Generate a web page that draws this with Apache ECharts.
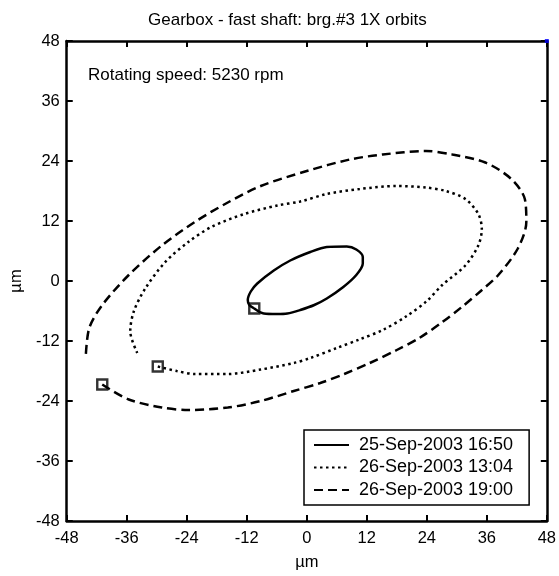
<!DOCTYPE html>
<html>
<head>
<meta charset="utf-8">
<script src="https://cdn.jsdelivr.net/npm/echarts@6/dist/echarts.min.js"></script>
<style>html,body{margin:0;padding:0;background:#fff}#c{width:559px;height:576px}</style>
</head>
<body>
<div id="c"></div>
<script>
// ---- data ----
const titleText = 'Gearbox - fast shaft: brg.#3 1X orbits';
const noteText = 'Rotating speed: 5230 rpm';
const axisTicks = [-48, -36, -24, -12, 0, 12, 24, 36, 48];
const seriesNames = ['25-Sep-2003 16:50', '26-Sep-2003 13:04', '26-Sep-2003 19:00'];

const orbit1 = [[-10.5,-5.5],[-8.6,-6.5],[-6,-6.6],[-3.9,-6.5],[-1.3,-5.8],[1.5,-4.8],[4.0,-3.5],[7.3,-1.2],[9.9,1.2],[11.2,3.5],[11.2,4.8],[9.9,6.3],[8.0,6.9],[4.0,6.8],[0.7,5.8],[-3.3,4.1],[-6.6,2.1],[-9.9,-0.5],[-11.2,-2.1],[-11.8,-3.8],[-11.5,-4.8],[-10.5,-5.5]];
const orbit2 = [[-29.8,-17.1],[-26,-18],[-22.4,-18.6],[-15.8,-18.6],[-9.2,-17.7],[-2.6,-16.4],[0.7,-15.4],[6.0,-13.4],[10.5,-11.7],[15.2,-9.8],[20,-7],[24,-4],[27.1,-0.8],[31.7,3.1],[34.3,7.1],[35.0,10.4],[34.3,13.4],[31.7,16.4],[27.8,18.0],[23.8,18.7],[17.9,19.0],[10.6,18.4],[4.0,17.4],[-1.3,15.9],[-5.9,15.1],[-12.5,13.4],[-19.1,10.8],[-23.7,7.8],[-28.3,3.8],[-32.3,-1.5],[-34.6,-6.1],[-35.3,-10.1],[-33.9,-14.4]];
const orbit3 = [[-40.9,-20.7],[-35.6,-23.7],[-29.0,-25.3],[-23.7,-25.8],[-15.8,-25.3],[-9.2,-24.0],[-2.6,-22.0],[2.7,-20.4],[7.5,-18.6],[12.6,-16.4],[18,-13.8],[22.5,-11.4],[27,-8.3],[31.0,-5.2],[34.8,-2],[38.3,1.2],[42.2,6.5],[43.9,11.8],[43.6,16.4],[40.9,20.4],[35.7,23.7],[29.1,25.3],[23.8,26.0],[15.2,25.3],[8.6,24.3],[0,22],[-9.2,19.0],[-15.8,15.7],[-22.4,11.8],[-29.0,7.1],[-35.6,1.2],[-40.9,-4.8],[-43.5,-9.4],[-44.2,-15.1]];
const startMarkers = [orbit1[0], orbit2[0], orbit3[0]];
const cornerDot = [[48, 48]];

// ---- chart ----
const FONT = 'Liberation Sans, Arial, sans-serif';
const chart = echarts.init(document.getElementById('c'), null, {renderer: 'canvas'});
function axisBase(pos, show) {
  return {
    type: 'value', min: -48, max: 48, interval: 12, position: pos,
    axisLine: {show: true, onZero: false, lineStyle: {color: '#000', width: 2.5}},
    axisTick: {show: true, inside: true, length: 6, lineStyle: {color: '#000', width: 2}},
    splitLine: {show: false},
    axisLabel: {show: show, color: '#000', fontSize: 16.5, fontFamily: FONT,
      customValues: axisTicks}
  };
}
const xMain = Object.assign(axisBase('bottom', true), {
  name: 'µm', nameLocation: 'middle', nameGap: 33,
  nameTextStyle: {color: '#000', fontSize: 16.5, fontFamily: FONT}
});
xMain.axisLabel.margin = 9;
const yMain = Object.assign(axisBase('left', true), {
  name: 'µm', nameLocation: 'middle', nameGap: 40,
  nameTextStyle: {color: '#000', fontSize: 16.5, fontFamily: FONT}
});
yMain.axisLabel.margin = 7;
const xTop = axisBase('top', false);
const yRight = axisBase('right', false);

const styles = [
  {type: 'solid', width: 2.5},
  {type: [2.5, 3.5], width: 2.5},
  {type: [9, 5], width: 2.5}
];
const orbits = [orbit1, orbit2, orbit3];

const series = orbits.map((d, i) => ({
  name: seriesNames[i], type: 'line', data: d, symbol: 'none', smooth: 0.3,
  xAxisIndex: 0, yAxisIndex: 0,
  lineStyle: Object.assign({color: '#000'}, styles[i]),
  itemStyle: {color: '#000'}, z: 3, silent: true
}));
series.push({
  name: 'start', type: 'scatter', data: startMarkers, symbol: 'rect', symbolSize: 10,
  itemStyle: {color: 'rgba(255,255,255,0)', borderColor: '#000', borderWidth: 2.4}, z: 4, silent: true
});
series.push({
  name: 'corner', type: 'scatter', data: cornerDot, symbol: 'rect', symbolSize: 4,
  itemStyle: {color: '#0000ff'}, z: 5, silent: true, clip: false
});

chart.setOption({
  animation: false,
  backgroundColor: '#fff',
  title: {text: titleText, left: 143, top: 7,
    textStyle: {color: '#000', fontSize: 17, fontWeight: 'normal', fontFamily: FONT}},
  grid: {left: 64, right: 10, top: 41, bottom: 51, containLabel: false},
  xAxis: [xMain, xTop],
  yAxis: [yMain, yRight],
  legend: {
    data: seriesNames, orient: 'vertical', left: 304, top: 430,
    backgroundColor: '#fff', borderColor: '#000', borderWidth: 1.5,
    padding: [6, 16, 6, 9], itemGap: 4.5, itemWidth: 35, itemHeight: 14,
    selectedMode: false,
    itemStyle: {opacity: 0},
    textStyle: {color: '#000', fontSize: 18, fontFamily: FONT, lineHeight: 18, padding: [0, 0, 0, 5]}
  },
  graphic: [{type: 'text', left: 88, top: 67,
    style: {text: noteText, fill: '#000', font: '17px ' + FONT}}],
  series: series
});
</script>
</body>
</html>
